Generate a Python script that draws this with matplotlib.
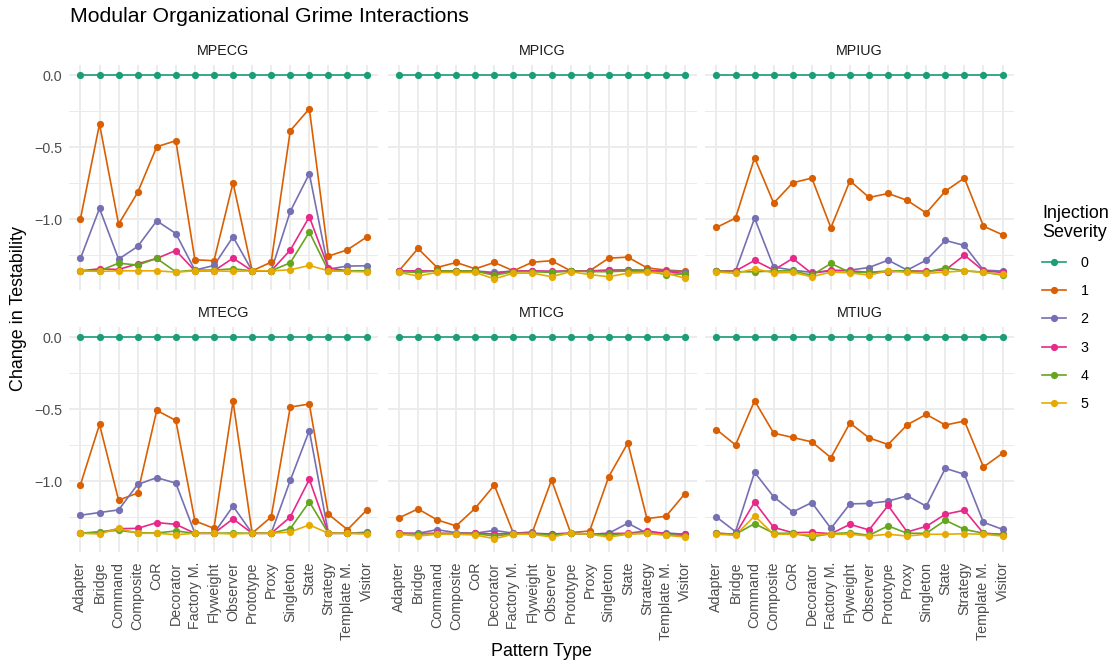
import matplotlib
matplotlib.use("Agg")
import matplotlib.pyplot as plt
from matplotlib.lines import Line2D

plt.rcParams['font.family'] = ['Liberation Sans', 'DejaVu Sans']

# pattern types on the x axis
patterns = ['Adapter', 'Bridge', 'Command', 'Composite', 'CoR', 'Decorator',
            'Factory M.', 'Flyweight', 'Observer', 'Prototype', 'Proxy',
            'Singleton', 'State', 'Strategy', 'Template M.', 'Visitor']

severities = ['0', '1', '2', '3', '4', '5']
colors = ['#1B9E77', '#D95F02', '#7570B3', '#E7298A', '#66A61E', '#E6AB02']

# severity 0 is flat at zero in every panel
sev0 = [0.0, 0.0, 0.0, 0.0, 0.0, 0.0, 0.0, 0.0, 0.0, 0.0, 0.0, 0.0, 0.0, 0.0, 0.0, 0.0]

# MPECG
mpecg_1 = [-0.998, -0.340, -1.035, -0.815, -0.498, -0.456, -1.282, -1.289, -0.748, -1.359, -1.299, -0.387, -0.234, -1.257, -1.213, -1.125]
mpecg_2 = [-1.273, -0.926, -1.278, -1.190, -1.012, -1.100, -1.354, -1.322, -1.123, -1.359, -1.359, -0.947, -0.685, -1.347, -1.326, -1.324]
mpecg_3 = [-1.359, -1.345, -1.350, -1.310, -1.273, -1.218, -1.359, -1.359, -1.271, -1.359, -1.359, -1.215, -0.984, -1.340, -1.359, -1.359]
mpecg_4 = [-1.359, -1.359, -1.306, -1.319, -1.273, -1.366, -1.354, -1.354, -1.345, -1.359, -1.359, -1.303, -1.090, -1.359, -1.359, -1.359]
mpecg_5 = [-1.359, -1.363, -1.359, -1.359, -1.359, -1.368, -1.359, -1.359, -1.363, -1.359, -1.359, -1.352, -1.322, -1.359, -1.363, -1.366]

# MPICG
mpicg_1 = [-1.359, -1.204, -1.336, -1.301, -1.345, -1.301, -1.359, -1.299, -1.289, -1.359, -1.359, -1.271, -1.264, -1.338, -1.354, -1.361]
mpicg_2 = [-1.360, -1.360, -1.360, -1.360, -1.360, -1.370, -1.360, -1.360, -1.365, -1.360, -1.360, -1.355, -1.352, -1.355, -1.360, -1.365]
mpicg_3 = [-1.360, -1.360, -1.360, -1.360, -1.360, -1.380, -1.360, -1.360, -1.362, -1.360, -1.360, -1.355, -1.356, -1.358, -1.362, -1.380]
mpicg_4 = [-1.365, -1.370, -1.360, -1.360, -1.360, -1.390, -1.365, -1.365, -1.370, -1.360, -1.365, -1.365, -1.360, -1.360, -1.385, -1.380]
mpicg_5 = [-1.370, -1.395, -1.370, -1.370, -1.370, -1.415, -1.375, -1.375, -1.400, -1.365, -1.385, -1.400, -1.375, -1.370, -1.375, -1.410]

# MPIUG
mpiug_1 = [-1.058, -0.993, -0.574, -0.889, -0.748, -0.715, -1.060, -0.734, -0.850, -0.822, -0.870, -0.958, -0.806, -0.715, -1.049, -1.109]
mpiug_2 = [-1.361, -1.361, -0.993, -1.333, -1.354, -1.370, -1.361, -1.354, -1.336, -1.285, -1.354, -1.285, -1.148, -1.183, -1.354, -1.361]
mpiug_3 = [-1.360, -1.360, -1.287, -1.354, -1.273, -1.377, -1.354, -1.359, -1.370, -1.366, -1.359, -1.361, -1.354, -1.250, -1.359, -1.370]
mpiug_4 = [-1.360, -1.365, -1.366, -1.360, -1.359, -1.390, -1.308, -1.370, -1.370, -1.359, -1.359, -1.368, -1.338, -1.359, -1.368, -1.389]
mpiug_5 = [-1.366, -1.377, -1.345, -1.373, -1.370, -1.400, -1.368, -1.373, -1.389, -1.359, -1.370, -1.377, -1.368, -1.359, -1.370, -1.384]

# MTECG
mtecg_1 = [-1.023, -0.605, -1.130, -1.081, -0.507, -0.577, -1.274, -1.326, -0.444, -1.360, -1.247, -0.484, -0.463, -1.228, -1.335, -1.200]
mtecg_2 = [-1.235, -1.216, -1.198, -1.021, -0.974, -1.012, -1.360, -1.360, -1.172, -1.360, -1.360, -0.993, -0.647, -1.360, -1.360, -1.353]
mtecg_3 = [-1.360, -1.356, -1.328, -1.326, -1.286, -1.298, -1.360, -1.360, -1.260, -1.360, -1.360, -1.247, -0.986, -1.360, -1.360, -1.360]
mtecg_4 = [-1.360, -1.349, -1.340, -1.356, -1.358, -1.344, -1.360, -1.360, -1.358, -1.360, -1.360, -1.328, -1.142, -1.360, -1.360, -1.360]
mtecg_5 = [-1.360, -1.365, -1.326, -1.360, -1.360, -1.370, -1.360, -1.360, -1.365, -1.360, -1.360, -1.351, -1.302, -1.360, -1.360, -1.365]

# MTICG
mticg_1 = [-1.253, -1.191, -1.267, -1.309, -1.186, -1.026, -1.360, -1.351, -0.991, -1.356, -1.344, -0.967, -0.733, -1.258, -1.242, -1.084]
mticg_2 = [-1.360, -1.360, -1.335, -1.356, -1.360, -1.340, -1.360, -1.360, -1.365, -1.360, -1.367, -1.360, -1.290, -1.360, -1.358, -1.367]
mticg_3 = [-1.360, -1.362, -1.360, -1.362, -1.360, -1.365, -1.362, -1.362, -1.365, -1.360, -1.365, -1.362, -1.360, -1.344, -1.362, -1.367]
mticg_4 = [-1.362, -1.365, -1.362, -1.362, -1.362, -1.379, -1.364, -1.364, -1.374, -1.360, -1.365, -1.374, -1.362, -1.360, -1.370, -1.379]
mticg_5 = [-1.367, -1.379, -1.367, -1.367, -1.372, -1.398, -1.367, -1.367, -1.386, -1.360, -1.367, -1.386, -1.367, -1.360, -1.374, -1.386]

# MTIUG
mtiug_1 = [-0.640, -0.747, -0.440, -0.665, -0.695, -0.726, -0.835, -0.595, -0.698, -0.744, -0.607, -0.535, -0.609, -0.581, -0.900, -0.805]
mtiug_2 = [-1.247, -1.349, -0.937, -1.107, -1.212, -1.147, -1.326, -1.156, -1.153, -1.137, -1.100, -1.172, -0.909, -0.951, -1.284, -1.333]
mtiug_3 = [-1.360, -1.367, -1.144, -1.319, -1.356, -1.353, -1.363, -1.298, -1.337, -1.167, -1.351, -1.312, -1.228, -1.200, -1.360, -1.367]
mtiug_4 = [-1.360, -1.367, -1.293, -1.360, -1.360, -1.384, -1.363, -1.356, -1.374, -1.309, -1.360, -1.360, -1.270, -1.333, -1.360, -1.372]
mtiug_5 = [-1.367, -1.374, -1.240, -1.367, -1.367, -1.372, -1.367, -1.367, -1.379, -1.367, -1.379, -1.367, -1.367, -1.363, -1.367, -1.379]

panels = [
    ('MPECG', [sev0, mpecg_1, mpecg_2, mpecg_3, mpecg_4, mpecg_5]),
    ('MPICG', [sev0, mpicg_1, mpicg_2, mpicg_3, mpicg_4, mpicg_5]),
    ('MPIUG', [sev0, mpiug_1, mpiug_2, mpiug_3, mpiug_4, mpiug_5]),
    ('MTECG', [sev0, mtecg_1, mtecg_2, mtecg_3, mtecg_4, mtecg_5]),
    ('MTICG', [sev0, mticg_1, mticg_2, mticg_3, mticg_4, mticg_5]),
    ('MTIUG', [sev0, mtiug_1, mtiug_2, mtiug_3, mtiug_4, mtiug_5]),
]

W, H = 1114, 667
fig = plt.figure(figsize=(W / 100, H / 100), dpi=100)

col_left = [69, 387.5, 705]
panel_w = 309
row_top = [64.8, 327.1]
panel_h = 224.9

grid_col = '#EBEBEB'
text_col = '#4D4D4D'
x = list(range(len(patterns)))

for i, (name, series) in enumerate(panels):
    r, c = divmod(i, 3)
    ax = fig.add_axes([col_left[c] / W, 1 - (row_top[r] + panel_h) / H,
                       panel_w / W, panel_h / H])
    # lines first, then the points on top (like geom_line + geom_point)
    for vals, col in zip(series, colors):
        ax.plot(x, vals, color=col, lw=1.2, zorder=2)
    for vals, col in zip(series, colors):
        ax.plot(x, vals, 'o', color=col, ms=5.2, mew=0, zorder=3)

    ax.set_xlim(-0.6, 15.6)
    ax.set_ylim(-1.49, 0.071)
    ax.set_xticks(x)
    ax.set_yticks([0, -0.5, -1.0])
    ax.set_yticks([-0.25, -0.75, -1.25], minor=True)
    ax.grid(True, which='major', color=grid_col, lw=1.3, zorder=0)
    ax.grid(True, which='minor', axis='y', color=grid_col, lw=0.7, zorder=0)
    ax.set_axisbelow(True)
    for s in ax.spines.values():
        s.set_visible(False)
    ax.tick_params(which='both', length=0, labelsize=10.3, labelcolor=text_col)
    ax.tick_params(axis='y', pad=5)
    ax.tick_params(axis='x', pad=7)

    if c == 0:
        ax.set_yticklabels(['0.0', '\u22120.5', '\u22121.0'])
    else:
        ax.set_yticklabels([])
    if r == 1:
        ax.set_xticklabels(patterns, rotation=90)
    else:
        ax.set_xticklabels([])

    ax.set_title(name, fontsize=10.3, color='#1A1A1A', pad=7)

fig.text(70 / W, 1 - 17 / H, 'Modular Organizational Grime Interactions',
         fontsize=15.3, ha='left', va='center')
fig.text(19 / W, 1 - 308 / H, 'Change in Testability', fontsize=12.9,
         rotation=90, ha='center', va='center')
fig.text(541 / W, 1 - 651 / H, 'Pattern Type', fontsize=12.9,
         ha='center', va='center')

handles = [Line2D([0], [0], color=col, lw=1.2, marker='o', ms=5.2, mew=0)
           for col in colors]
leg = fig.legend(handles, severities, title='Injection\nSeverity',
                 loc='upper left', bbox_to_anchor=(1029 / W, 1 - 192 / H),
                 frameon=False, fontsize=10.3, title_fontsize=12.9,
                 handlelength=1.7, labelspacing=1.0, handletextpad=1.0)
leg._legend_box.align = 'left'
leg.get_title().set_multialignment('left')

fig.savefig('out.png', dpi=100)
